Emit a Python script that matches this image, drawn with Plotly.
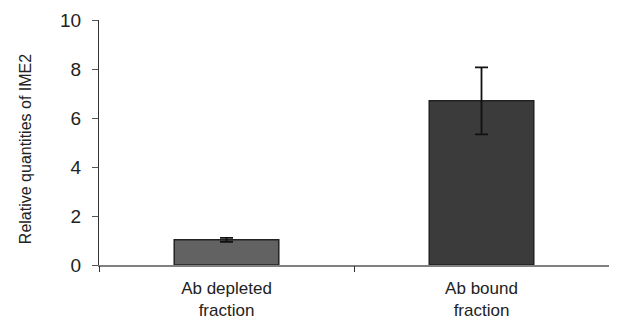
import plotly.graph_objects as go

categories = ["Ab depleted<br>fraction", "Ab bound<br>fraction"]
values = [1.03, 6.7]
errors = [0.08, 1.37]
bar_colors = ["#626262", "#3b3b3b"]
y_ticks = [0, 2, 4, 6, 8, 10]
y_title = "Relative quantities of IME2"

fig = go.Figure()
fig.add_trace(go.Bar(
    x=categories, y=values,
    marker=dict(color=bar_colors, line=dict(color="#222222", width=1.5)),
    error_y=dict(type="data", array=errors, visible=True, color="#111111",
                 thickness=1.8, width=6.5),
    width=0.41,
))
# invisible helper trace on a numeric overlay axis for the boundary ticks
fig.add_trace(go.Scatter(x=[-0.5, 1.5], y=[0, 0], xaxis="x2", mode="lines",
                         line=dict(width=0), hoverinfo="skip", showlegend=False))

fig.update_layout(
    width=613, height=312,
    margin=dict(l=91, r=12, t=12, b=55, autoexpand=False),
    paper_bgcolor="white", plot_bgcolor="white",
    showlegend=False,
    font=dict(family="Liberation Sans, Arial, sans-serif", color="#222222"),
    xaxis=dict(
        showline=True, linecolor="#808080", linewidth=1.5,
        ticks="", tickfont=dict(size=17, color="#222222"),
        ticklabelstandoff=7,
        range=[-0.5, 1.5], fixedrange=True, automargin=False,
    ),
    xaxis2=dict(
        overlaying="x", range=[-0.5, 1.5], tickvals=[-0.5, 0.5],
        ticks="outside", ticklen=6, tickcolor="#333333", tickwidth=1.2,
        showticklabels=False, showgrid=False, zeroline=False, showline=False,
        side="bottom", automargin=False,
    ),
    yaxis=dict(
        range=[0, 10], tickvals=y_ticks, ticks="outside", ticklen=6,
        tickcolor="#555555", tickwidth=1,
        showline=True, linecolor="#333333", linewidth=1.2,
        showgrid=False, zeroline=False, automargin=False,
        tickfont=dict(size=19, color="#222222"),
        ticklabelstandoff=7,
    ),
    annotations=[dict(
        text=y_title, textangle=-90, showarrow=False,
        xref="paper", yref="paper", x=-0.145, y=0.473,
        xanchor="center", yanchor="middle",
        font=dict(size=16, color="#222222"),
    )],
)

fig.write_html("out.html")
